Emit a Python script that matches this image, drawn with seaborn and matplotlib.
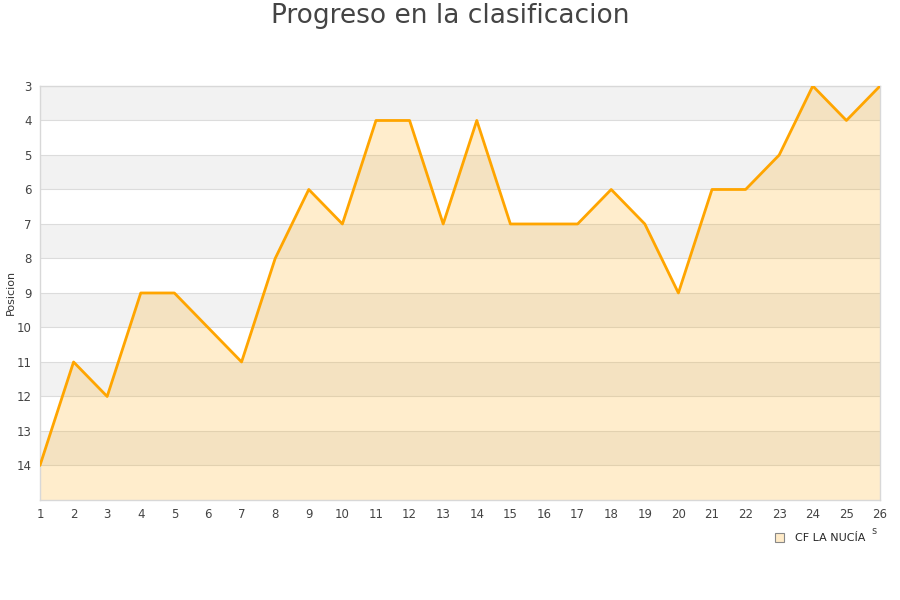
import matplotlib
matplotlib.use("Agg")
import matplotlib.pyplot as plt
import seaborn as sns
import pandas as pd
import numpy as np

# data
jornadas = list(range(1, 27))
posicion = [14, 11, 12, 9, 9, 10, 11, 8, 6, 7, 4, 4, 7, 4, 7, 7, 7, 6, 7, 9, 6, 6, 5, 3, 4, 3]
equipo = "CF LA NUCÍA"
y_ticks = list(range(3, 15))

df = pd.DataFrame({"Jornada": jornadas, "Posicion": posicion})

sns.set_style("white")
plt.rcParams["font.family"] = ["DejaVu Sans"]

fig = plt.figure(figsize=(9, 6), dpi=100)
ax = fig.add_axes([0.0444, 0.1667, 0.9334, 0.69])

# alternating grey bands
for i, y in enumerate(range(3, 15)):
    if i % 2 == 0:
        ax.axhspan(y, y + 1, color="#f2f2f2", zorder=0, lw=0)
for y in range(4, 15):
    ax.axhline(y, color="#dcdcdc", lw=0.8, zorder=1)

ax.fill_between(df["Jornada"], df["Posicion"], 15, color="#ffa500", alpha=0.2, lw=0, zorder=2)
sns.lineplot(data=df, x="Jornada", y="Posicion", ax=ax, color="#ffa500", lw=2, zorder=3)

ax.set_xlim(1, 26)
ax.set_ylim(15, 3)
ax.set_xticks(jornadas)
ax.set_yticks(y_ticks)
ax.tick_params(axis="both", labelsize=8.5, colors="#444444", length=0, pad=6)
ax.set_xlabel("")
ax.set_ylabel("")
for side in ["left", "bottom", "top", "right"]:
    ax.spines[side].set_color("#d8d8d8")
    ax.spines[side].set_linewidth(1)

fig.text(0.012, 0.513, "Posicion", fontsize=8, color="#333333", rotation=90,
         ha="center", va="center")
fig.suptitle("Progreso en la clasificacion", fontsize=19, color="#444444", y=0.995)

# legend below the plot, right side
handle = plt.Rectangle((0, 0), 1, 1, facecolor="#ffebc8", edgecolor="#888888", lw=0.8)
fig.legend([handle], [equipo], loc="center", bbox_to_anchor=(0.911, 0.103),
           frameon=False, fontsize=8, handlelength=0.8, handleheight=0.8, handletextpad=1.0)
fig.text(0.971, 0.115, "s", fontsize=7, color="#444444", ha="center", va="center")

fig.savefig("out.png", dpi=100)
